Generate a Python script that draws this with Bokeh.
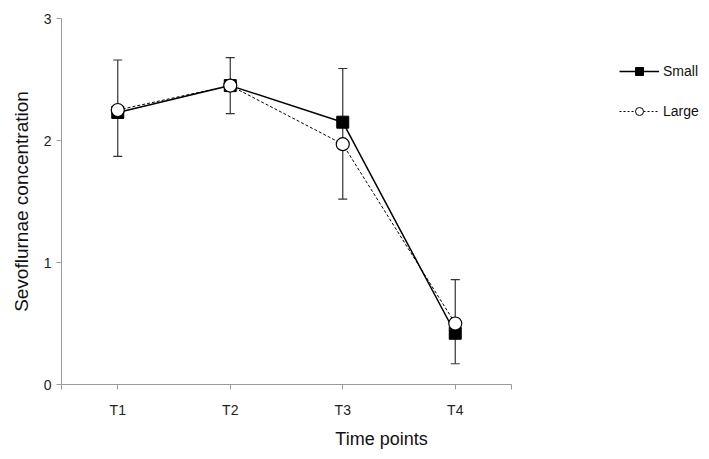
from bokeh.plotting import figure
from bokeh.models import Legend, LegendItem, Whisker, TeeHead, ColumnDataSource, FixedTicker, Range1d
from bokeh.embed import file_html
from bokeh.resources import INLINE

time_labels = ["T1", "T2", "T3", "T4"]
x_pos = [1, 2, 3, 4]
small_vals = [2.23, 2.45, 2.15, 0.42]
large_vals = [2.25, 2.45, 1.97, 0.50]
err_upper = [2.66, 2.68, 2.59, 0.86]
err_lower = [1.87, 2.22, 1.52, 0.17]
series_names = ["Small", "Large"]

W, H = 701, 451
left, top, bottom = 61, 18, 63
frame_w = W - left
x_end = 0.5 + frame_w / 112.5

p = figure(width=W, height=H, output_backend="svg", toolbar_location=None,
           x_range=Range1d(0.5, x_end), y_range=Range1d(0, 3),
           min_border_left=left, min_border_right=0, min_border_top=top, min_border_bottom=bottom)
p.grid.visible = False
p.outline_line_color = None
p.background_fill_color = "white"

font = "Liberation Sans"
for ax in (p.xaxis[0], p.yaxis[0]):
    ax.axis_line_color = "#9a9a9a"
    ax.major_tick_line_color = "#9a9a9a"
    ax.minor_tick_line_color = None
    ax.major_tick_out = 5
    ax.major_tick_in = 0
    ax.major_label_text_font = font
    ax.major_label_text_font_size = "14px"
    ax.major_label_text_color = "#222222"
    ax.axis_label_text_font = font
    ax.axis_label_text_font_style = "normal"
    ax.axis_label_text_color = "#111111"

p.xaxis.bounds = (0.5, 4.5)
p.xaxis.ticker = FixedTicker(ticks=[0.5] + x_pos + [4.5])
p.xaxis.major_label_overrides = {0.5: "", 4.5: "", **{x: t for x, t in zip(x_pos, time_labels)}}
p.xaxis.major_label_standoff = 12
p.xaxis.axis_label = "Time points"
p.xaxis.axis_label_text_font_size = "18px"
p.xaxis.axis_label_standoff = 8

p.yaxis.ticker = FixedTicker(ticks=[0, 1, 2, 3])
p.yaxis.axis_label = "Sevoflurnae concentration"
p.yaxis.axis_label_text_font_size = "19px"
p.yaxis.axis_label_standoff = 9

src = ColumnDataSource(dict(x=x_pos, upper=err_upper, lower=err_lower))
w = Whisker(source=src, base="x", upper="upper", lower="lower", line_color="#333333", line_width=1.2,
            upper_head=TeeHead(size=9, line_color="#333333", line_width=1.2),
            lower_head=TeeHead(size=9, line_color="#333333", line_width=1.2))
p.add_layout(w)

p.line(x_pos, small_vals, line_color="black", line_width=1.5)
p.line(x_pos, large_vals, line_color="black", line_width=1, line_dash="3 2")
p.scatter(x_pos, small_vals, marker="square", size=12, fill_color="black", line_color="black")
p.scatter(x_pos, large_vals, marker="circle", size=13, fill_color="white", line_color="black", line_width=1.2)

# legend-only proxies (a single NaN point, nothing drawn in the plot) with smaller key markers
def proxy():
    return ColumnDataSource(dict(x=[float("nan")], y=[float("nan")]))

ls = p.line("x", "y", source=proxy(), line_color="black", line_width=1.5)
ms = p.scatter("x", "y", source=proxy(), marker="square", size=9, fill_color="black", line_color="black")
ll = p.line("x", "y", source=proxy(), line_color="black", line_width=1, line_dash="2 2")
ml = p.scatter("x", "y", source=proxy(), marker="circle", size=9, fill_color="white", line_color="black", line_width=1)

legend = Legend(items=[LegendItem(label=series_names[0], renderers=[ls, ms]),
                       LegendItem(label=series_names[1], renderers=[ll, ml])],
                location=(558, 263), orientation="vertical",
                glyph_width=40, glyph_height=20, spacing=20, label_standoff=4,
                label_text_font=font, label_text_font_size="14px", label_text_color="#111111",
                border_line_color=None, background_fill_alpha=0, padding=0, margin=0)
p.add_layout(legend, "center")

open("out.html", "w").write(file_html(p, INLINE))
